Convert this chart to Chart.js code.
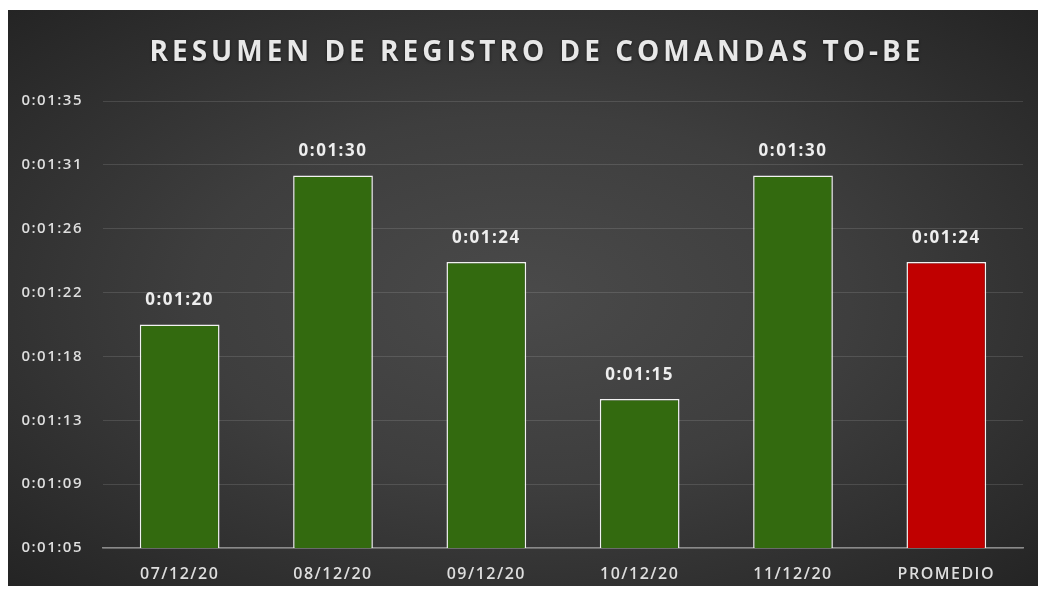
<!DOCTYPE html>
<html>
<head>
<meta charset="utf-8">
<script src="https://cdn.jsdelivr.net/npm/chart.js@4/dist/chart.umd.min.js"></script>
<style>
  body { margin: 0; background: #fff; }
  #wrap {
    position: absolute; left: 8px; top: 10px; width: 1030px; height: 576px;
    background: radial-gradient(ellipse at 50% 50%, #4a4a4a 0%, #3e3e3e 45%, #242424 100%);
  }
</style>
</head>
<body>
<div id="wrap"><canvas id="chart"></canvas></div>
<script>
// data, in seconds
const labels = ["07/12/20", "08/12/20", "09/12/20", "10/12/20", "11/12/20", "PROMEDIO"];
const tiempos = [80, 90, 84.2, 75, 90, 84.2];
const barColors = ["#336a0f", "#336a0f", "#336a0f", "#336a0f", "#336a0f", "#c00000"];
const tickLabels = ["0:01:05", "0:01:09", "0:01:13", "0:01:18", "0:01:22", "0:01:26", "0:01:31", "0:01:35"];
const yMin = 65;
const yMax = 95;
const titulo = "RESUMEN DE REGISTRO DE COMANDAS TO-BE";

function fmt(sec) {
  const s = Math.round(sec);
  const h = Math.floor(s / 3600);
  const m = Math.floor((s % 3600) / 60);
  const r = s % 60;
  return h + ":" + String(m).padStart(2, "0") + ":" + String(r).padStart(2, "0");
}

// Excel-like spaced text: title, value labels and tick spacing
const excelText = {
  id: "excelText",
  beforeDraw(chart) {
    chart.ctx.letterSpacing = "1.5px";
  },
  afterDatasetsDraw(chart) {
    const ctx = chart.ctx;
    const meta = chart.getDatasetMeta(0);
    ctx.save();
    ctx.font = "bold 17px 'Open Sans'";
    ctx.fillStyle = "#eeeeee";
    ctx.textAlign = "center";
    ctx.textBaseline = "middle";
    meta.data.forEach((bar, i) => {
      ctx.fillText(fmt(tiempos[i]), bar.x, bar.y - 24);
    });
    ctx.restore();
  },
  afterDraw(chart) {
    const ctx = chart.ctx;
    ctx.save();
    ctx.letterSpacing = "4px";
    ctx.font = "bold 28px 'Open Sans'";
    ctx.fillStyle = "#e8e8e8";
    ctx.shadowColor = "rgba(0,0,0,0.6)";
    ctx.shadowBlur = 3;
    ctx.shadowOffsetY = 1;
    ctx.textAlign = "center";
    ctx.textBaseline = "middle";
    ctx.fillText(titulo, 529, 43);
    ctx.restore();
    ctx.letterSpacing = "0px";
  },
};

new Chart("chart", {
  type: "bar",
  data: {
    labels: labels,
    datasets: [
      {
        data: tiempos,
        backgroundColor: barColors,
        borderColor: "#f2f2f2",
        borderWidth: 1.5,
        barPercentage: 0.52,
        categoryPercentage: 1,
      },
    ],
  },
  options: {
    responsive: true,
    maintainAspectRatio: false,
    animation: false,
    layout: { padding: { top: 91, right: 15, bottom: 0 } },
    plugins: {
      legend: { display: false },
      tooltip: { enabled: false },
    },
    scales: {
      x: {
        grid: { display: false, drawTicks: false },
        border: { color: "#8a8a8a", width: 1.5 },
        ticks: { color: "#dedede", font: { family: "'Open Sans'", size: 16, weight: "600" }, padding: 17 },
        afterFit(axis) { axis.height = 38; },
      },
      y: {
        min: yMin,
        max: yMax,
        afterBuildTicks(axis) {
          axis.ticks = tickLabels.map((_, i) => ({ value: yMin + (i * (yMax - yMin)) / (tickLabels.length - 1) }));
        },
        afterFit(axis) { axis.width = 95; },
        grid: { color: "rgba(255,255,255,0.12)", drawTicks: false },
        border: { display: false },
        ticks: {
          color: "#dedede",
          font: { family: "'Open Sans'", size: 15, weight: "600" },
          padding: 20,
          callback: (v, i) => tickLabels[i],
        },
      },
    },
  },
  plugins: [excelText],
});
</script>
</body>
</html>
